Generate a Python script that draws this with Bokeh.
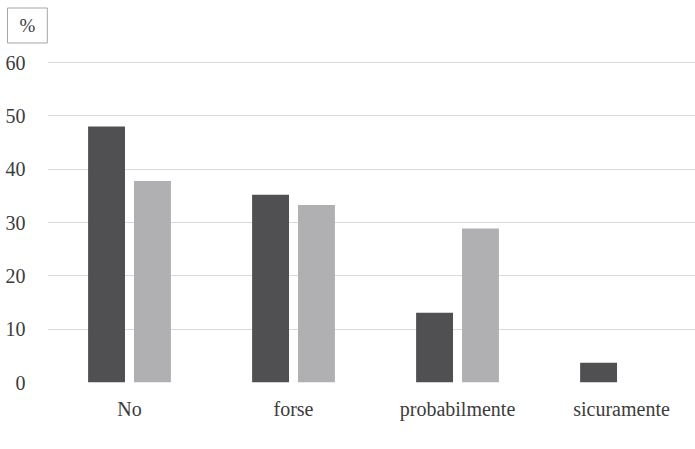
from bokeh.plotting import figure
from bokeh.models import ColumnDataSource, FixedTicker, Legend, LegendItem, Title
from bokeh.transform import dodge
from bokeh.embed import file_html
from bokeh.resources import INLINE

# Survey answers, percentage per group
categories = ["No", "forse", "probabilmente", "sicuramente"]
gruppo_a = [48.0, 35.2, 13.1, 3.7]
gruppo_b = [37.8, 33.3, 28.9, 0.0]
series_names = ["Gruppo A", "Gruppo B"]
y_ticks = [0, 10, 20, 30, 40, 50, 60]

FONT = "Liberation Serif"
TEXT_COLOR = "#3c3c3c"
COLOR_A = "#505052"
COLOR_B = "#b0b0b3"

positions = list(range(len(categories)))
source = ColumnDataSource(dict(pos=positions, a=gruppo_a, b=gruppo_b))

p = figure(
    width=695, height=449,
    frame_width=648, frame_height=321,
    x_range=(-0.5, 3.451), y_range=(0, 60.2),
    output_backend="svg", toolbar_location=None,
    min_border_left=47, min_border_right=0,
    min_border_top=61, min_border_bottom=0,
    title="%",
)

offset = 0.14
bar_w = 0.225
ra = p.vbar(x=dodge("pos", -offset), top="a", width=bar_w, source=source,
            fill_color=COLOR_A, line_color=None)
rb = p.vbar(x=dodge("pos", offset), top="b", width=bar_w, source=source,
            fill_color=COLOR_B, line_color=None)

# axes
p.xaxis.ticker = FixedTicker(ticks=positions)
p.xaxis.major_label_overrides = {i: c for i, c in enumerate(categories)}
p.yaxis.ticker = FixedTicker(ticks=y_ticks)
for ax in (p.xaxis[0], p.yaxis[0]):
    ax.axis_line_color = None
    ax.major_tick_line_color = None
    ax.minor_tick_line_color = None
    ax.major_label_text_font = FONT
    ax.major_label_text_font_size = "20px"
    ax.major_label_text_color = TEXT_COLOR
p.xaxis.major_label_standoff = 9
p.yaxis.major_label_standoff = 16

p.xgrid.grid_line_color = None
p.ygrid.grid_line_color = "#d9d9d9"
p.ygrid.grid_line_width = 1
p.ygrid.ticker = FixedTicker(ticks=y_ticks)
p.outline_line_color = None

# gap between the unit box and the plot area
p.add_layout(Title(text=" ", text_font_size="2px", standoff=9), "above")

# unit box in the top-left corner
p.title.align = "left"
p.title.offset = -40
p.title.standoff = 11
p.title.text_font = FONT
p.title.text_font_size = "19px"
p.title.text_font_style = "normal"
p.title.text_color = TEXT_COLOR
p.title.border_line_color = "#a6a6a6"
p.title.border_line_width = 1
p.title.background_fill_color = "white"
p.title.padding = (12, 7)

# legend under the category labels
legend = Legend(
    items=[LegendItem(label=series_names[0], renderers=[ra]),
           LegendItem(label=series_names[1], renderers=[rb])],
    orientation="horizontal", location="bottom_center",
    glyph_width=12, glyph_height=12, label_standoff=3, spacing=22,
    label_text_font=FONT, label_text_font_size="20px", label_text_color=TEXT_COLOR,
    border_line_color=None, background_fill_alpha=0,
    margin=0, padding=0, label_height=20,
)
p.add_layout(legend, "below")

open("out.html", "w").write(file_html(p, INLINE))
